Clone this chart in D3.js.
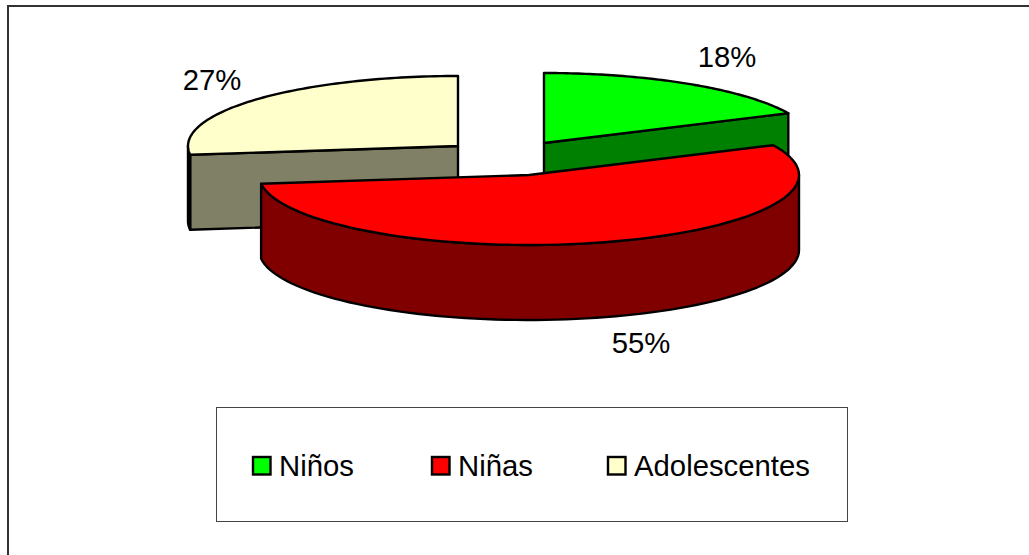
<!DOCTYPE html>
<html>
<head>
<meta charset="utf-8">
<script src="https://cdn.jsdelivr.net/npm/d3@7"></script>
<style>
  html, body { margin: 0; padding: 0; background: #fff; overflow: hidden; }
  svg { display: block; }
  text { font-family: "Liberation Sans", Arial, sans-serif; fill: #000; }
</style>
</head>
<body>
<div id="chart"></div>
<script>
var categories = ["Niños", "Niñas", "Adolescentes"];
var shares = [18, 55, 27];
var topColors = ["#00ff00", "#ff0000", "#ffffcc"];
var sideColors = ["#008000", "#800000", "#808066"];

var width = 1029,
    height = 555;
var radiusX = 270,
    radiusY = 70,
    depth = 75,
    fontSize = 29.3;
// where each exploded slice has its apex
var apexes = [[544, 143], [529, 175], [458, 146]];
var labelPositions = [[727, 67], [641, 353], [212, 90]];
var legendPositions = [252, 431, 607];

var svg = d3.select("#chart")
  .append("svg")
    .attr("width", width)
    .attr("height", height);

// frame runs off the right and bottom of the picture
svg.append("rect")
  .attr("x", 8)
  .attr("y", 6)
  .attr("width", 1100)
  .attr("height", 1100)
  .attr("fill", "#fff")
  .attr("stroke", "#333")
  .attr("stroke-width", 2);

var slices = d3.pie().sort(null)(shares);
var line = d3.line();

function project(apex, angle, drop) {
  return [
    apex[0] + radiusX * Math.sin(angle),
    apex[1] - radiusY * Math.cos(angle) + (drop || 0)
  ];
}

function arcPoints(apex, from, to, drop) {
  var steps = 80;
  return d3.range(steps + 1).map(function(i) {
    return project(apex, from + (to - from) * i / steps, drop);
  });
}

function drawShape(points, fill) {
  svg.append("path")
    .attr("d", line(points) + "Z")
    .attr("fill", fill)
    .attr("stroke", "#000")
    .attr("stroke-width", 2.4)
    .attr("stroke-linejoin", "round");
}

// cut face that looks towards the viewer, per slice
var cutAngles = [slices[0].endAngle, null, slices[2].startAngle];

// back to front: Adolescentes, then Niños, then Niñas
[2, 0, 1].forEach(function(i) {
  var slice = slices[i],
      apex = apexes[i],
      fill = sideColors[i];

  if (cutAngles[i] !== null) {
    var rim = project(apex, cutAngles[i]);
    drawShape([apex, rim, [rim[0], rim[1] + depth], [apex[0], apex[1] + depth]], fill);
  }

  // outer wall, only the part below the widest point of the ellipse
  var wallFrom = Math.max(slice.startAngle, Math.PI / 2),
      wallTo = Math.min(slice.endAngle, Math.PI * 3 / 2);
  if (wallFrom < wallTo) {
    drawShape(
      arcPoints(apex, wallFrom, wallTo).concat(arcPoints(apex, wallTo, wallFrom, depth)),
      fill
    );
  }

  drawShape([apex].concat(arcPoints(apex, slice.startAngle, slice.endAngle)), topColors[i]);
});

svg.selectAll("text.share")
  .data(shares)
  .enter()
    .append("text")
    .attr("class", "share")
    .attr("x", function(d, i) { return labelPositions[i][0]; })
    .attr("y", function(d, i) { return labelPositions[i][1]; })
    .attr("text-anchor", "middle")
    .attr("font-size", fontSize)
    .text(function(d) { return d + "%"; });

var legend = svg.append("g").attr("class", "legend");

legend.append("rect")
  .attr("x", 216.5)
  .attr("y", 407.5)
  .attr("width", 631)
  .attr("height", 114)
  .attr("fill", "#fff")
  .attr("stroke", "#444")
  .attr("stroke-width", 1);

var legendItems = legend.selectAll("g")
  .data(categories)
  .enter()
    .append("g")
    .attr("transform", function(d, i) { return "translate(" + legendPositions[i] + ",456)"; });

legendItems.append("rect")
  .attr("x", 1)
  .attr("y", 1)
  .attr("width", 17.5)
  .attr("height", 17.5)
  .attr("fill", function(d, i) { return topColors[i]; })
  .attr("stroke", "#000")
  .attr("stroke-width", 2.4);

legendItems.append("text")
  .attr("x", 27)
  .attr("y", 20)
  .attr("font-size", fontSize)
  .text(function(d) { return d; });
</script>
</body>
</html>
